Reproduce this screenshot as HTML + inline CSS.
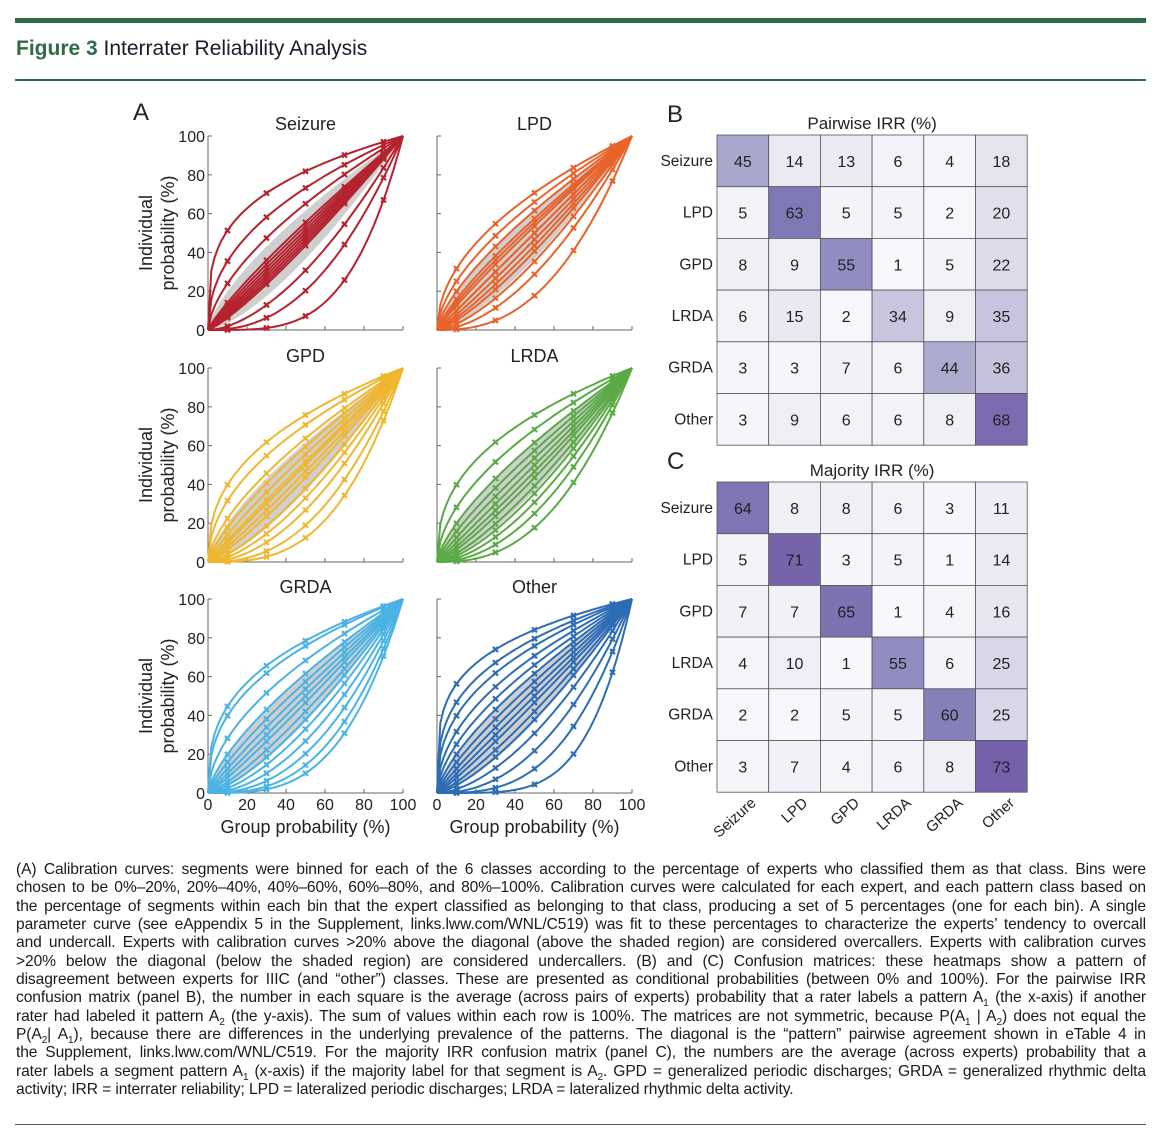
<!DOCTYPE html>
<html><head><meta charset="utf-8">
<style>
body{margin:0;background:#fff;width:1160px;height:1140px;position:relative;overflow:hidden;font-family:"Liberation Sans",sans-serif;color:#222}
#cap{position:absolute;left:16px;top:861px;width:1130px;font-size:15.6px;line-height:18.35px;color:#1a1a1a;letter-spacing:-0.1px}
#cap div{white-space:nowrap;text-align:justify;text-align-last:justify}
#cap div.last{text-align-last:left}
sub{font-size:10px;line-height:0}
</style></head><body>
<div style="position:absolute;left:15px;top:18px;width:1131px;height:5px;background:#2d6b4a"></div>
<div style="position:absolute;left:16px;top:37px;font-size:21px;color:#1a1a2a"><b style="color:#2d6b4a">Figure 3</b> Interrater Reliability Analysis</div>
<div style="position:absolute;left:15px;top:79px;width:1131px;height:2px;background:#2d6b4a"></div>
<svg id="fig" width="1160" height="860" style="position:absolute;left:0;top:0" font-family="Liberation Sans, sans-serif"></svg>
<div id="cap">
<div>(A) Calibration curves: segments were binned for each of the 6 classes according to the percentage of experts who classified them as that class. Bins were</div>
<div>chosen to be 0%–20%, 20%–40%, 40%–60%, 60%–80%, and 80%–100%. Calibration curves were calculated for each expert, and each pattern class based on</div>
<div>the percentage of segments within each bin that the expert classified as belonging to that class, producing a set of 5 percentages (one for each bin). A single</div>
<div>parameter curve (see eAppendix 5 in the Supplement, links.lww.com/WNL/C519) was fit to these percentages to characterize the experts’ tendency to overcall</div>
<div>and undercall. Experts with calibration curves &gt;20% above the diagonal (above the shaded region) are considered overcallers. Experts with calibration curves</div>
<div>&gt;20% below the diagonal (below the shaded region) are considered undercallers. (B) and (C) Confusion matrices: these heatmaps show a pattern of</div>
<div>disagreement between experts for IIIC (and “other”) classes. These are presented as conditional probabilities (between 0% and 100%). For the pairwise IRR</div>
<div>confusion matrix (panel B), the number in each square is the average (across pairs of experts) probability that a rater labels a pattern A<sub>1</sub> (the x-axis) if another</div>
<div>rater had labeled it pattern A<sub>2</sub> (the y-axis). The sum of values within each row is 100%. The matrices are not symmetric, because P(A<sub>1</sub> | A<sub>2</sub>) does not equal the</div>
<div>P(A<sub>2</sub>| A<sub>1</sub>), because there are differences in the underlying prevalence of the patterns. The diagonal is the “pattern” pairwise agreement shown in eTable 4 in</div>
<div>the Supplement, links.lww.com/WNL/C519. For the majority IRR confusion matrix (panel C), the numbers are the average (across experts) probability that a</div>
<div>rater labels a segment pattern A<sub>1</sub> (x-axis) if the majority label for that segment is A<sub>2</sub>. GPD = generalized periodic discharges; GRDA = generalized rhythmic delta</div>
<div class="last">activity; IRR = interrater reliability; LPD = lateralized periodic discharges; LRDA = lateralized rhythmic delta activity.</div>
</div>
<div style="position:absolute;left:15px;top:1124px;width:1131px;height:1px;background:#555"></div>
<script>
const classNames=["Seizure","LPD","GPD","LRDA","GRDA","Other"];
const classColors=["#b5232f","#e8632b","#f0b62e","#5aaa46","#4ab3e6","#2d6db5"];
const expSeizure=[0.29,0.45,0.62,0.85,0.9,0.95,1,1,1.05,1.1,1.15,1.2,1.7,2.3,3.8];
const expLPD=[0.5,0.6,0.7,0.8,0.85,0.9,1,1,1.1,1.2,1.3,1.5,1.8,2.5];
const expGPD=[0.4,0.5,0.65,0.75,0.85,0.95,1,1.1,1.2,1.4,1.6,1.9,2.4,3];
const expLRDA=[0.4,0.55,0.7,0.8,0.9,1,1.1,1.2,1.35,1.5,1.7,2,2.5];
const expGRDA=[0.35,0.4,0.55,0.7,0.8,0.9,1,1.1,1.25,1.4,1.6,1.9,2.3,2.8,3.3];
const expOther=[0.25,0.33,0.4,0.5,0.6,0.7,0.8,0.9,1,1.1,1.25,1.4,1.7,2.2,3,4.5];
const bandUpper=0.7, bandLower=1.45;
const bins=[10,30,50,70,90];
const axisTicks=[0,20,40,60,80,100];
const matLabels=["Seizure","LPD","GPD","LRDA","GRDA","Other"];
const pairwise=[[45,14,13,6,4,18],[5,63,5,5,2,20],[8,9,55,1,5,22],[6,15,2,34,9,35],[3,3,7,6,44,36],[3,9,6,6,8,68]];
const majority=[[64,8,8,6,3,11],[5,71,3,5,1,14],[7,7,65,1,4,16],[4,10,1,55,6,25],[2,2,5,5,60,25],[3,7,4,6,8,73]];

const svg=document.getElementById('fig');const NS="http://www.w3.org/2000/svg";
function el(t,a,p){const e=document.createElementNS(NS,t);for(const k in a)e.setAttribute(k,a[k]);(p||svg).appendChild(e);return e;}
function txt(s,a,p){const e=el('text',a,p);e.textContent=s;return e;}
const allExp=[expSeizure,expLPD,expGPD,expLRDA,expGRDA,expOther];
const colX=[208,437], rowY=[136,368,599], W=195,H=194;
txt("A",{x:133,y:120,"font-size":24,fill:"#222"});
classNames.forEach((nm,i)=>{
  const x0=colX[i%2], y0=rowY[Math.floor(i/2)];
  const g=el('g',{});
  
  
  const sx=v=>x0+v/100*W, sy=v=>y0+H-v/100*H;
  txt(nm,{x:x0+W/2,y:y0-6,"text-anchor":"middle","font-size":18,fill:"#222"},g);
  let pts=[];for(let k=0;k<=50;k++){const u=k/50;pts.push(sx(u*100)+","+sy(100*Math.pow(u,bandUpper)));}
  for(let k=50;k>=0;k--){const u=k/50;pts.push(sx(u*100)+","+sy(100*Math.pow(u,bandLower)));}
  const band=el('polygon',{points:pts.join(" "),fill:"#cfcfcf"},g);
  
  el('line',{x1:x0,y1:y0,x2:x0,y2:y0+H,stroke:"#666","stroke-width":1},g);
  el('line',{x1:x0,y1:y0+H,x2:x0+W,y2:y0+H,stroke:"#666","stroke-width":1},g);
  axisTicks.forEach(t=>{
    el('line',{x1:x0,y1:sy(t),x2:x0+4,y2:sy(t),stroke:"#666"},g);
    el('line',{x1:sx(t),y1:y0+H,x2:sx(t),y2:y0+H-4,stroke:"#666"},g);
    if(i%2==0){const l=txt(String(t),{x:x0-3,y:sy(t)+6,"text-anchor":"end","font-size":16,fill:"#222"},g);}
    if(i>=4){const l=txt(String(t),{x:sx(t),y:y0+H+17,"text-anchor":"middle","font-size":16,fill:"#222"},g);}
  });
  if(i%2==0){
    const yl=el('g',{transform:`translate(152,${y0+H/2}) rotate(-90)`},g);
    
    txt("Individual",{x:0,y:0,"text-anchor":"middle","font-size":18,fill:"#222"},yl);
    txt("probability (%)",{x:0,y:22,"text-anchor":"middle","font-size":18,fill:"#222"},yl);
  }
  if(i>=4){const xl=txt("Group probability (%)",{x:x0+W/2,y:y0+H+40,"text-anchor":"middle","font-size":18,fill:"#222"},g);}
  allExp[i].forEach(ex=>{
    let d="";for(let k=0;k<=60;k++){const u=k/60;d+=(k?"L":"M")+sx(u*100).toFixed(1)+","+sy(100*Math.pow(u,ex)).toFixed(1);}
    const p=el('path',{d:d,fill:"none",stroke:classColors[i],"stroke-width":2},g);
    
    bins.forEach(b=>{
      const cx=sx(b),cy=sy(100*Math.pow(b/100,ex));
      const m=el('path',{d:`M${cx-2.5},${cy-2.5}L${cx+2.5},${cy+2.5}M${cx-2.5},${cy+2.5}L${cx+2.5},${cy-2.5}`,stroke:classColors[i],"stroke-width":2.2},g);
      
    });
  });
});
const cStops=[[0,[249,248,252]],[15,[234,232,241]],[35,[198,196,222]],[45,[170,167,205]],[63,[127,120,182]],[75,[114,90,166]]];
function color(v){
  for(let j=1;j<cStops.length;j++){if(v<=cStops[j][0]||j==cStops.length-1){const [a0,ca]=cStops[j-1],[b0,cb]=cStops[j];const f=Math.max(0,Math.min(1,(v-a0)/(b0-a0)));return `rgb(${ca.map((c,k)=>Math.round(c+(cb[k]-c)*f)).join(",")})`;}}
}
function heat(mat,y0,title,letter,name,showX){
  const g=el('g',{});
  const x0=717,c=51.7;
  txt(letter,{x:667,y:y0-13,"font-size":24,fill:"#222"},g);
  txt(title,{x:x0+3*c,y:y0-6,"text-anchor":"middle","font-size":17,fill:"#222"},g);
  mat.forEach((row,r)=>{
    txt(matLabels[r],{x:x0-4,y:y0+r*c+c/2+5,"text-anchor":"end","font-size":15.5,fill:"#222"},g);
    row.forEach((v,k)=>{
      const rc=el('rect',{x:x0+k*c,y:y0+r*c,width:c,height:c,fill:color(v),stroke:"#555","stroke-width":0.8},g);
      
      txt(String(v),{x:x0+k*c+c/2,y:y0+r*c+c/2+6,"text-anchor":"middle","font-size":16,fill:"#222"},g);
    });
  });
  if(showX)matLabels.forEach((l,k)=>{
    const t=txt(l,{x:0,y:0,"text-anchor":"end","font-size":15,fill:"#222",transform:`translate(${x0+k*c+c/2+14},${y0+6*c+12}) rotate(-42)`},g);
    
  });
}
heat(pairwise,135,"Pairwise IRR (%)","B","pairwise-irr-heatmap",false);
heat(majority,482,"Majority IRR (%)","C","majority-irr-heatmap",true);
</script>
</body></html>
